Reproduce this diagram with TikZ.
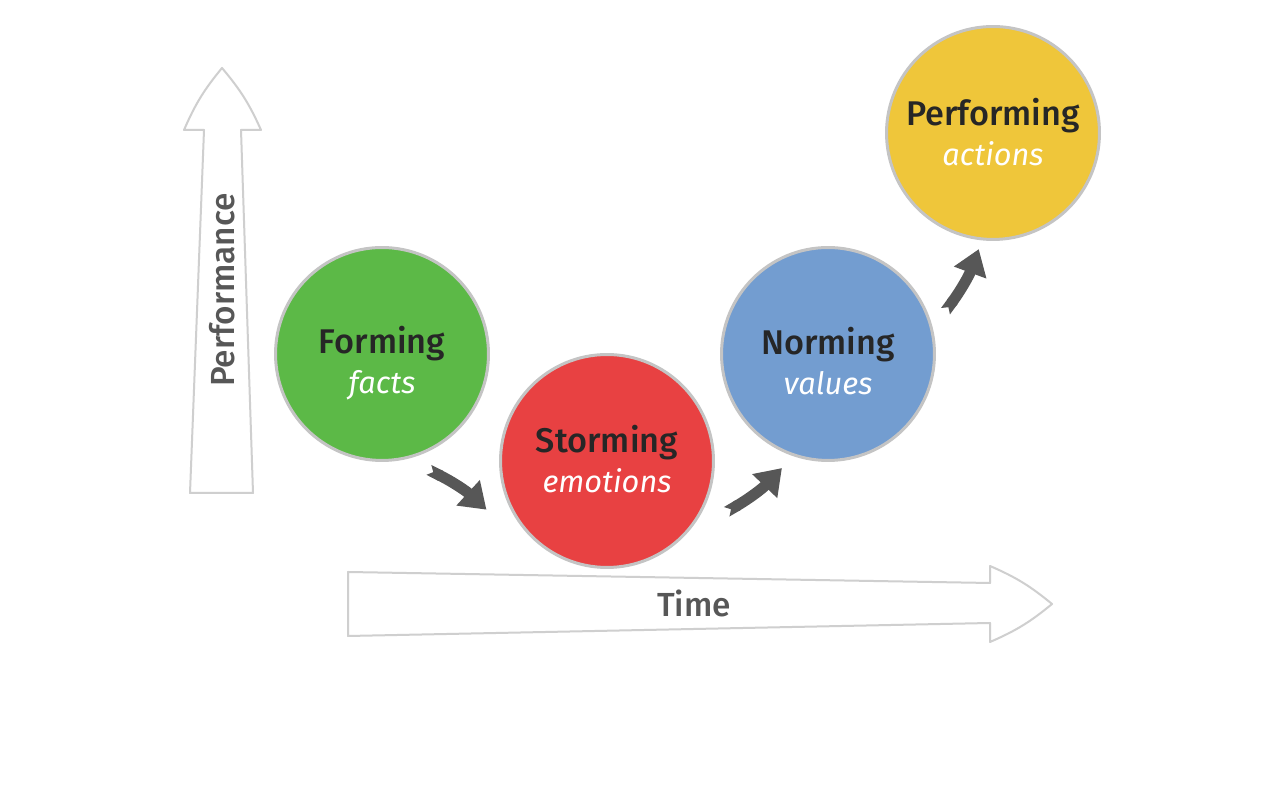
\documentclass[tikz,border=0pt]{standalone}
\usepackage{fontspec}
\setmainfont{Fira Sans}
\newfontfamily\firamed{Fira Sans Medium}
\usetikzlibrary{arrows.meta,calc}

\definecolor{formgreen}{HTML}{5CB947}
\definecolor{stormred}{HTML}{E84142}
\definecolor{normblue}{HTML}{739DD0}
\definecolor{perfyellow}{HTML}{EFC63A}
\definecolor{ringgray}{HTML}{C4C4C4}
\definecolor{outlinegray}{HTML}{CFCFCF}
\definecolor{labelgray}{HTML}{575757}
\definecolor{titledark}{HTML}{262626}

\tikzset{
  stage/.style={circle, draw=ringgray, line width=0.06cm, minimum size=4.26cm},
  stagetext/.style={align=center, text=titledark,
    font=\fontsize{19.5}{23}\selectfont},
  bigarrow/.style={draw=outlinegray, line width=0.04cm, fill=white, line join=round},
  steparrow/.style={draw=labelgray, line width=0.22cm,
    {Triangle Cap[reversed, length=0.1cm]}-{Triangle[width=0.66cm, length=0.5cm]}},
  axislabel/.style={text=labelgray, font=\firamed\fontsize{19}{23}\selectfont}
}

\begin{document}
\begin{tikzpicture}[x=0.02cm, y=0.02cm]
    \fill[white] (0,0) rectangle (1280,800);
    \useasboundingbox (0,0) rectangle (1280,800);

    % axes
    \draw[bigarrow] (190,307) -- (204,670) -- (184,670) to[bend left=8] (222,732)
        to[bend left=8] (261,670) -- (241,670) -- (253,307) -- cycle;
    \draw[bigarrow] (348,228) -- (990,217) -- (990,234) to[bend left=8] (1052,196)
        to[bend left=8] (990,158) -- (990,177) -- (348,164) -- cycle;
    \node[axislabel, rotate=90] (performance) at (222,510) {Performance};
    \node[axislabel] (time) at (694,197) {Time};

    % stages
    \foreach \nm/\col/\x/\y/\dy/\ttl/\sub in {forming/formgreen/382/446/-9/Forming/facts,
        storming/stormred/607/339/2/Storming/emotions,
        norming/normblue/828/446/-7/Norming/values,
        performing/perfyellow/993/667/1/Performing/actions}
      \node[stage, fill=\col, label={[stagetext, yshift=\dy*0.02cm]center:{{\firamed\ttl}\\
        {\color{white}\fontsize{17.5}{23}\selectfont\itshape\sub}}}] (\nm) at (\x,\y) {};

    \draw[steparrow] ($(forming)+(-68:125)$) to[bend left=8] ($(storming)+(202:130)$);
    \draw[steparrow] ($(storming)+(-23:130)$) to[bend right=8] ($(norming)+(248:123)$);
    \draw[steparrow] ($(norming)+(20:125)$) to[bend right=8] ($(performing)+(263:117)$);
\end{tikzpicture}
\end{document}
